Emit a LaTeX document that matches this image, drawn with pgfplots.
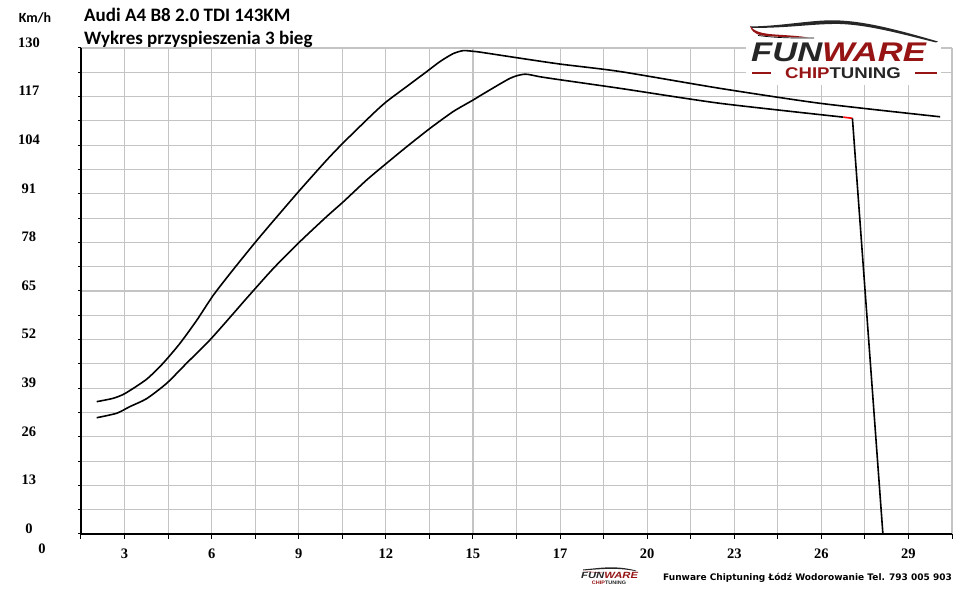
\documentclass[border=0pt]{standalone}
\usepackage{pgfplots}
\pgfplotsset{compat=1.18}
\usepackage{fontspec}
\setmainfont{Liberation Serif}
\newfontfamily\calibri{Carlito}
\newfontfamily\dejavu{DejaVu Sans}
\newfontfamily\lsans{Liberation Sans}
\definecolor{gridc}{RGB}{196,196,196}
\definecolor{fwred}{RGB}{150,20,20}
\begin{document}
\begin{tikzpicture}
\path[use as bounding box] (0,0) rectangle (960pt,599pt);
\begin{axis}[
  at={(81pt,65pt)}, anchor=south west,
  scale only axis, width=871pt, height=486pt,
  xmin=1.5, xmax=31.5, ymin=0, ymax=130,
  axis lines*=left,
  axis line style={line width=1.6pt, black},
  xtick={3,6,...,30}, xticklabels={3,6,9,12,15,17,20,23,26,29},
  minor xtick={1.5,4.5,7.5,10.5,13.5,16.5,19.5,22.5,25.5,28.5,31.5},
  ytick={0,13,...,130},
  minor ytick={6.5,19.5,32.5,45.5,58.5,71.5,84.5,97.5,110.5,123.5},
  grid=both,
  major grid style={gridc, line width=1.1pt},
  minor grid style={gridc, line width=1.1pt},
  tick align=outside,
  major tick length=5pt, minor tick length=5pt,
  ytick style={/pgfplots/major tick length=2.5pt, /pgfplots/minor tick length=2.5pt},
  tick style={black, line width=1pt},
  /pgf/number format/assume math mode=true,
  ticklabel style={font=\bfseries\fontsize{14.5}{14.5}\selectfont},
  yticklabel style={anchor=center, xshift=-47pt, yshift=5.5pt},
  xticklabel style={anchor=center, yshift=-15pt},
  clip=false,
]
\addplot[black, line width=1.6pt, smooth, tension=0.4] coordinates {
(2.04,35.4)(2.61,36.3)(3.02,37.6)(3.76,41.4)(4.33,45.7)(4.91,51.0)(5.49,57.2)
(6.06,63.9)(6.75,70.8)(7.49,77.9)(8.12,83.7)(9.04,92.0)(9.96,100.0)(10.54,104.7)
(11.57,112.5)(12.03,115.7)(12.72,119.7)(13.41,123.7)(13.87,126.4)(14.32,128.5)
(14.67,129.3)(15.01,129.1)(15.24,128.9)(16.51,127.4)(18.0,125.7)
(20.07,123.7)(23.51,119.2)(26.96,115.2)(31.09,111.6)
};
\addplot[black, line width=1.6pt, smooth, tension=0.4] coordinates {
(2.04,31.1)(2.73,32.3)(3.19,34.1)(3.76,36.2)(4.45,40.3)(5.14,45.7)(5.94,51.9)
(6.75,59.0)(7.21,63.1)(8.12,71.0)(9.04,78.2)(9.96,84.9)(10.54,88.9)(11.34,94.7)
(12.03,99.2)(12.72,103.6)(13.52,108.5)(14.32,113.0)(15.01,116.1)(15.24,117.2)
(16.28,121.9)(16.79,123.0)(17.31,122.3)(18.0,121.5)
(20.07,119.2)(23.51,115.2)(27.76,111.5)
};
\addplot[red, line width=1.6pt] coordinates {(27.76,111.5)(28.07,111.2)};
\addplot[black, line width=1.6pt] coordinates {(28.07,111.2)(29.12,0)};
\node[font=\bfseries\fontsize{14.5}{14.5}\selectfont, anchor=center, yshift=-15pt, xshift=4.5pt] at (axis cs:0,0) {0};
\end{axis}
\begin{scope}[shift={(0,599pt)}, x=1pt, y=-1pt]
  % titles
  \node[anchor=base west, inner sep=0, font=\calibri\bfseries\fontsize{19}{19}\selectfont] at (84,21.7) {Audi A4 B8 2.0 TDI 143KM};
  \node[anchor=base west, inner sep=0, font=\calibri\bfseries\fontsize{19}{19}\selectfont] at (84,45) {Wykres przyspieszenia 3 bieg};
  \node[anchor=base, inner sep=0, font=\calibri\bfseries\fontsize{14}{14}\selectfont] at (35,22.7) {Km/h};
  % logo
  \fill[white] (746,14) rectangle (941,85);
  \fill[black!85] (750,26.5) .. controls (785,26) and (815,19) .. (840,20.5)
      .. controls (870,22) and (905,32) .. (938,41.5)
      -- (936,42.5) .. controls (905,35) and (870,25) .. (840,24)
      .. controls (815,23.5) and (790,28) .. (752,28) -- cycle;
  \fill[fwred] (750,26) .. controls (754,31) and (760,33.5) .. (775,34.5)
      .. controls (790,35.5) and (800,36) .. (808,37.5)
      .. controls (795,37.5) and (775,37) .. (762,35.5)
      .. controls (754,34) and (751,30) .. (750,26) -- cycle;
  \draw[black, line width=0.7pt] (758,35.5) .. controls (780,38.5) and (800,38) .. (814,38);
  \node[anchor=base west, inner sep=0] at (751,62) {\scalebox{1.28}[1]{\lsans\bfseries\itshape\fontsize{27}{27}\selectfont \textcolor{black!85}{FUN}\textcolor{fwred}{WARE}}};
  \node[anchor=base, inner sep=0] at (843,78.5) {\scalebox{1.2}[1]{\lsans\bfseries\fontsize{15.5}{15.5}\selectfont \textcolor{fwred}{CHIP}\textcolor{black!85}{TUNING}}};
  \draw[fwred, line width=1.2pt] (752,73) -- (771,73);
  \draw[fwred, line width=1.2pt] (915,73) -- (937,73);
  % footer
  \node[anchor=base east, inner sep=0, font=\dejavu\bfseries\fontsize{9}{9}\selectfont] at (952,580.5) {Funware Chiptuning Łódź Wodorowanie Tel. 793 005 903};
  \fill[black!85] (583,569.5) .. controls (600,568) and (615,565) .. (636,570.5) -- (636,571.2) .. controls (615,567) and (600,569.5) .. (583,570.3) -- cycle;
  \fill[fwred] (583,569.5) .. controls (586,572) and (595,572) .. (602,572.5) .. controls (595,573) and (588,572.5) .. (583,569.5);
  \node[anchor=base west, inner sep=0] at (581,579) {\scalebox{1.25}[1]{\lsans\bfseries\itshape\fontsize{9}{9}\selectfont \textcolor{black!85}{FUN}\textcolor{fwred}{WARE}}};
  \node[anchor=base, inner sep=0] at (609,585) {\scalebox{1.1}[1]{\lsans\bfseries\fontsize{5}{5}\selectfont \textcolor{fwred}{CHIP}\textcolor{black!85}{TUNING}}};
\end{scope}
\end{tikzpicture}
\end{document}
